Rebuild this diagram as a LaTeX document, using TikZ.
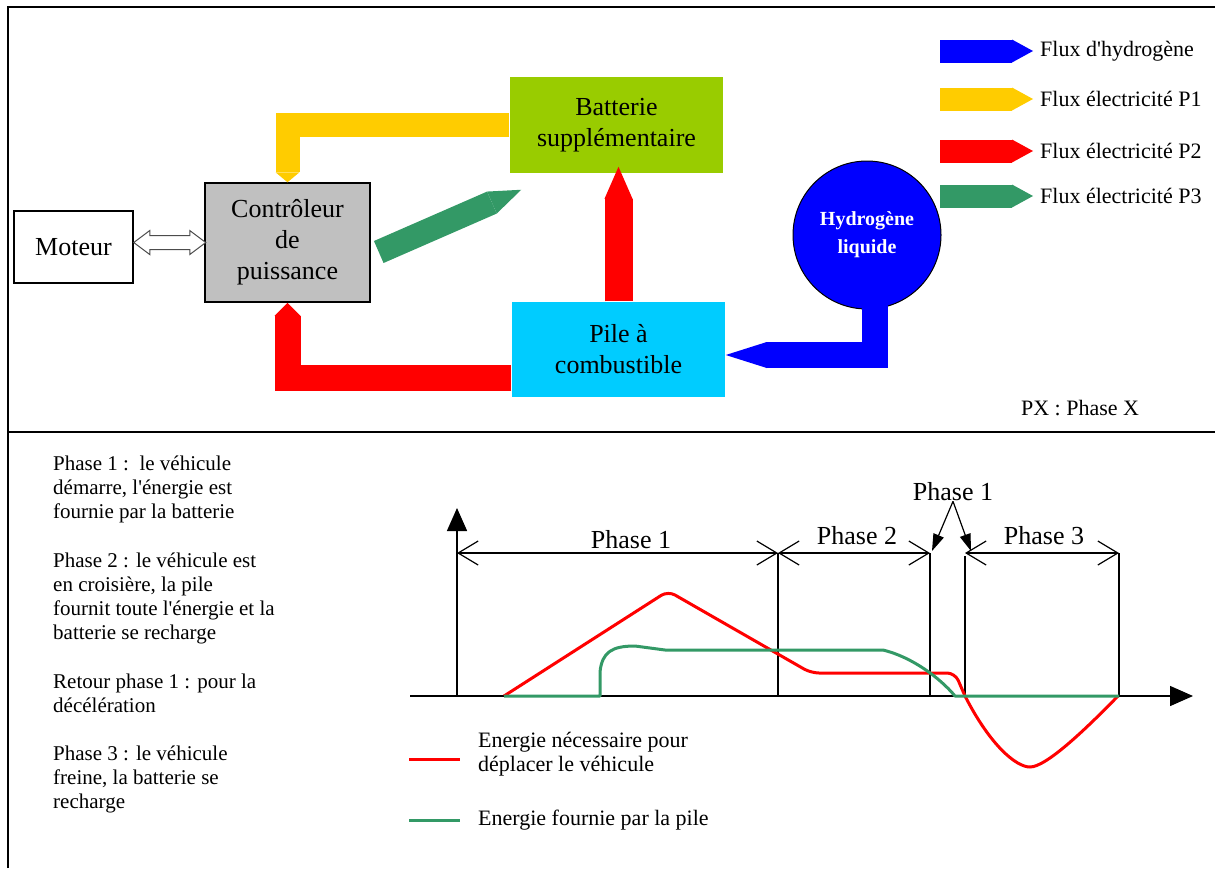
\documentclass[tikz,border=0pt]{standalone}
\usepackage{fontspec}
\setmainfont{Liberation Serif}
\usetikzlibrary{arrows.meta}

\definecolor{battgreen}{HTML}{99CC00}
\definecolor{pilecyan}{HTML}{00CCFF}
\definecolor{fluxyellow}{HTML}{FFCC00}
\definecolor{fluxgreen}{HTML}{339966}
\definecolor{ctrlgray}{HTML}{C0C0C0}

\newcommand\blocfont{\fontsize{26}{31}\selectfont}
\newcommand\legfont{\fontsize{22}{24}\selectfont}
\newcommand\notefont{\fontsize{21}{24}\selectfont}
\newcommand\apos{\textquotesingle}

\tikzset{
  bloc/.style={draw, line width=1.5pt, align=center, font=\blocfont, inner sep=0pt},
  flux/.style={-{Triangle[length=#1, width=0pt 1, line width=0pt]}},
  legende/.style={anchor=west, inner sep=0pt, font=\legfont},
  note/.style={anchor=north west, inner sep=0pt, align=left, font=\notefont},
  etiq/.style={inner sep=0pt, font=\blocfont},
  trait/.style={line width=1.3pt},
  axe/.style={line width=1.5pt, -{Triangle[length=23pt, width=20pt]}},
  cote/.style={line width=1.2pt, {Straight Barb[length=20pt, width=24pt]}-{Straight Barb[length=20pt, width=24pt]}},
  fleche/.style={line width=1.2pt, -{Triangle[length=17pt, width=11pt]}},
  courbe/.style={line width=3pt, line join=round}
}

\begin{document}
\begin{tikzpicture}[x=1pt, y=-1pt]
\useasboundingbox (0,0) rectangle (1215,868);
\draw[line width=2pt] (8,868) -- (8,7) -- (1215,7);
\draw[line width=2pt] (8,432) -- (1215,432);

\node[bloc, fill=white, minimum width=119pt, minimum height=72pt] (moteur) at (73.5,247) {Moteur};
\node[bloc, fill=ctrlgray, minimum width=165pt, minimum height=119pt] (ctrl) at (287.5,242.5) {Contrôleur\\de\\puissance};
\node[bloc, draw=none, fill=battgreen, minimum width=213pt, minimum height=96pt] (batt) at (616.5,125) {Batterie\\supplémentaire};
\node[bloc, draw=none, fill=pilecyan, minimum width=213pt, minimum height=95pt] (pile) at (618.5,349.5) {Pile à\\combustible};
\node[circle, draw, line width=1pt, fill=blue, minimum size=148pt, inner sep=0pt, align=center, text=white, font=\bfseries\fontsize{20}{28}\selectfont] (tank) at (867,235) {Hydrogène\\liquide};

\draw[line width=1pt, draw=black!70, fill=white] (moteur.east |- ctrl.west) -- ++(16,-12) -- ++(0,5) -- ++(40,0) -- ++(0,-5) -- ++(16,12) -- ++(-16,12) -- ++(0,-5) -- ++(-40,0) -- ++(0,5) -- cycle;
\draw[flux=10pt, line width=24pt, fluxyellow] (batt.west) -| (ctrl.north);
\draw[flux=13pt, line width=26pt, red] ([yshift=-28.5pt]pile.west) -| (ctrl.south);
\draw[flux=32pt, line width=28pt, red] (pile.north) -- ([yshift=7pt]pile.north |- batt.south);
\draw[flux=32pt, line width=24pt, fluxgreen] ([xshift=8pt,yshift=-9.5pt]ctrl.east) -- ([xshift=12pt,yshift=-16pt]batt.south west);
\draw[flux=41pt, line width=26pt, blue] ([xshift=8pt,yshift=6pt]tank.south) |- ([yshift=-5.5pt]pile.east);

\node[legende] (kH) at (1040,51) {Flux d\apos hydrogène};
\node[legende] (kP1) at (1040,99) {Flux électricité P1};
\node[legende] (kP2) at (1040,151) {Flux électricité P2};
\node[legende] (kP3) at (1040,196) {Flux électricité P3};
\draw[flux=21pt, line width=23pt, blue] ([xshift=-100pt]kH.west) -- ([xshift=-7pt]kH.west);
\draw[flux=21pt, line width=23pt, fluxyellow] ([xshift=-100pt]kP1.west) -- ([xshift=-7pt]kP1.west);
\draw[flux=21pt, line width=23pt, red] ([xshift=-100pt]kP2.west) -- ([xshift=-7pt]kP2.west);
\draw[flux=21pt, line width=23pt, fluxgreen] ([xshift=-100pt]kP3.west) -- ([xshift=-7pt]kP3.west);
\node[font=\legfont] (px) at (1080,408) {PX : Phase X};

\node[note] (n1) at (53,456) {Phase 1 :~~le véhicule\\démarre, l\apos énergie est\\fournie par la batterie};
\node[note] (n2) at (53,553) {Phase 2 : le véhicule est\\en croisière, la pile\\fournit toute l\apos énergie et la\\batterie se recharge};
\node[note] (n3) at (53,674) {Retour phase 1 : pour la\\décélération};
\node[note] (n4) at (53,746) {Phase 3 : le véhicule\\freine, la batterie se\\recharge};

\coordinate (O) at (457,696);
\coordinate (xg) at (410,696);
\coordinate (xd) at (1193,696);
\coordinate (yh) at (457,508);
\draw[axe] (xg) -- (xd);
\draw[axe] (O) -- (yh);
\foreach \x/\h in {778/553, 930/553, 965/556, 1119/553}
  \draw[trait] (\x,696) -- (\x,\h);
\draw[cote] (457,553) -- (778,553);
\draw[cote] (778,553) -- (930,553);
\draw[cote] (965,553) -- (1119,553);
\node[etiq] (e1) at (631,540) {Phase 1};
\node[etiq] (e2) at (857,536) {Phase 2};
\node[etiq] (e3) at (1044,536) {Phase 3};
\node[etiq] (e4) at (953,492) {Phase 1};
\draw[fleche] (e4.south) -- (932,551);
\draw[fleche] (e4.south) -- (971,551);

\draw[courbe, red, rounded corners=8pt] (504,696) -- (668,591) -- (811,673) -- (955,673) -- (965,696);
\draw[courbe, red] (965,696) .. controls (990,745) and (1016,767) .. (1030,767) .. controls (1046,767) and (1085,730) .. (1118,696);
\draw[courbe, fluxgreen] (504,696) -- (600,696) -- (600,672) .. controls (602,652) and (612,646) .. (635,646) -- (665,650) -- (883,650) .. controls (912,657) and (940,678) .. (955,696) -- (1119,696);

\node[legende] (lr) at (478,755) {\begin{tabular}{@{}l@{}}Energie nécessaire pour\\déplacer le véhicule\end{tabular}};
\node[legende] (lg) at (478,820) {Energie fournie par la pile};
\draw[courbe, red] ([xshift=-69pt,yshift=-4pt]lr.west) -- ([xshift=-18pt,yshift=-4pt]lr.west);
\draw[courbe, fluxgreen] ([xshift=-69pt]lg.west) -- ([xshift=-18pt]lg.west);
\end{tikzpicture}
\end{document}
